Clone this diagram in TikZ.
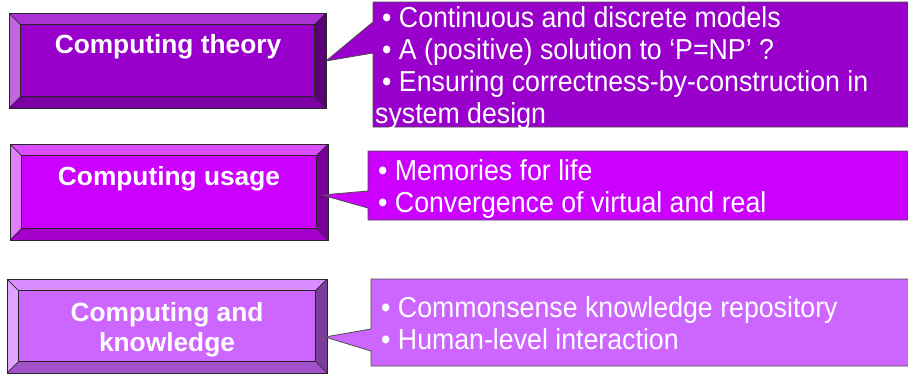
\documentclass[tikz,border=0pt]{standalone}
\usepackage{fontspec}
\setmainfont{Liberation Sans}
\newfontfamily\narrowsans[FakeStretch=0.925]{Liberation Sans}
\definecolor{Aface}{HTML}{9900CC}
\definecolor{Atop}{HTML}{AD33D6}
\definecolor{Aleft}{HTML}{C266E0}
\definecolor{Aright}{HTML}{5C007A}
\definecolor{Abot}{HTML}{7A00A3}
\definecolor{Bface}{HTML}{CC00FF}
\definecolor{Btop}{HTML}{DB4DFF}
\definecolor{Bleft}{HTML}{E080FF}
\definecolor{Bright}{HTML}{7A0099}
\definecolor{Bbot}{HTML}{A300CC}
\definecolor{Cface}{HTML}{CC66FF}
\definecolor{Ctop}{HTML}{D98CFF}
\definecolor{Cleft}{HTML}{E0A3FF}
\definecolor{Cright}{HTML}{7A3D99}
\definecolor{Cbot}{HTML}{A352CC}
\tikzset{
  edge/.style={draw=black!85, line width=0.7bp, line join=miter},
  boxtitle/.style={text=white, font=\fontsize{26.4}{30}\selectfont\bfseries, anchor=base, inner sep=0pt},
  calltext/.style={text=white, font=\narrowsans\fontsize{29}{32}\selectfont, anchor=base west, inner sep=0pt},
  callshape/.style={draw=black!70, line width=0.8bp, line join=miter},
}
% #1 name, #2 x1, #3 y1, #4 x2, #5 y2, #6 bevel, #7 colour prefix
\newcommand\bevelbox[7]{%
  \fill[#7top] (#2,#3) -- (#4,#3) -- (#4-#6,#3+#6) -- (#2+#6,#3+#6) -- cycle;
  \fill[#7left] (#2,#3) -- (#2+#6,#3+#6) -- (#2+#6,#5-#6) -- (#2,#5) -- cycle;
  \fill[#7right] (#4,#3) -- (#4,#5) -- (#4-#6,#5-#6) -- (#4-#6,#3+#6) -- cycle;
  \fill[#7bot] (#2,#5) -- (#4,#5) -- (#4-#6,#5-#6) -- (#2+#6,#5-#6) -- cycle;
  \pgfmathsetmacro\bvw{#4-#2-2*#6}%
  \pgfmathsetmacro\bvh{#5-#3-2*#6}%
  \pgfmathsetmacro\bow{#4-#2}%
  \pgfmathsetmacro\boh{#5-#3}%
  \node[edge, fill=#7face, minimum width=\bvw bp, minimum height=\bvh bp, inner sep=0pt, outer sep=0pt] (#1) at ({(#2+#4)/2},{(#3+#5)/2}) {};
  \node[edge, minimum width=\bow bp, minimum height=\boh bp, inner sep=0pt, outer sep=0pt] (#1o) at ({(#2+#4)/2},{(#3+#5)/2}) {};
  \draw[edge] (#1o.north west) -- (#1.north west)
              (#1o.north east) -- (#1.north east)
              (#1o.south west) -- (#1.south west)
              (#1o.south east) -- (#1.south east);
}
\begin{document}
\begin{tikzpicture}[x=1bp,y=-1bp]
\useasboundingbox (0,0) rectangle (908,374);
\clip (0,0) rectangle (908,374);

% bevelled boxes
\bevelbox{b1}{9}{13}{326}{108}{11.5}{A}
\bevelbox{b2}{10}{144}{328}{240}{11.5}{B}
\bevelbox{b3}{7}{279}{327}{373}{11.5}{C}

\node[boxtitle] (t1) at (168,53) {Computing theory};
\node[boxtitle] (t2) at (169,185) {Computing usage};
\node[boxtitle] (t3a) at (167,321) {Computing and};
\node[boxtitle] (t3b) at (167,351) {knowledge};

% pointer tips
\coordinate (p1) at (326,61);
\coordinate (p2) at (322,195);
\coordinate (p3) at (325,337);

% callouts
\draw[callshape, fill=Aface] (373,2) -- (912,2) -- (912,127) -- (373,127) -- (373,53) -- (p1) -- (373,22) -- cycle;
\draw[callshape, fill=Bface] (368,151) -- (912,151) -- (912,220) -- (368,220) -- (368,208) -- (p2) -- (368,191) -- cycle;
\draw[callshape, fill=Cface] (371,279) -- (912,279) -- (912,366) -- (371,366) -- (371,351) -- (p3) -- (371,329) -- cycle;

\node[calltext] (n1a) at (382,27) {• Continuous and discrete models};
\node[calltext] (n1b) at (382,59) {• A (positive) solution to ‘P=NP’ ?};
\node[calltext] (n1c) at (382,91) {• Ensuring correctness-by-construction in};
\node[calltext] (n1d) at (375,123) {system design};

\node[calltext] (n2a) at (378,180) {• Memories for life};
\node[calltext] (n2b) at (378,212) {• Convergence of virtual and real};

\node[calltext] (n3a) at (381,317) {• Commonsense knowledge repository};
\node[calltext] (n3b) at (381,349) {• Human-level interaction};
\end{tikzpicture}
\end{document}
